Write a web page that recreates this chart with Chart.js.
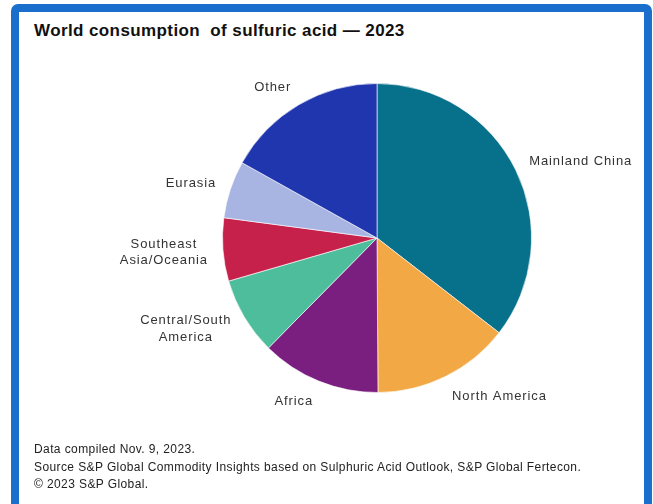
<!DOCTYPE html>
<html>
<head>
<meta charset="utf-8">
<script src="https://cdn.jsdelivr.net/npm/chart.js@4/dist/chart.umd.min.js"></script>
<style>
  html, body { margin: 0; padding: 0; background: #fff; }
  body { width: 653px; height: 504px; position: relative; overflow: hidden; font-family: "Liberation Sans", Arial, sans-serif; }
  #frame {
    position: absolute; left: 11px; top: 4px; width: 625px; height: 500px;
    border: 8px solid #1a6fcc; border-bottom-width: 4px; border-radius: 7px 7px 0 0;
    box-sizing: content-box;
  }
  #title {
    position: absolute; left: 34px; top: 21px;
    font-weight: bold; font-size: 17px; letter-spacing: 0.4px; color: #111; white-space: pre;
  }
  #notes {
    position: absolute; left: 34px; top: 441px;
    font-size: 12px; line-height: 17.5px; color: #222; letter-spacing: 0.4px;
  }
  #wrap { position: absolute; left: 0; top: 0; width: 653px; height: 504px; }
</style>
</head>
<body>
<div id="frame"></div>
<div id="title">World consumption  of sulfuric acid — 2023</div>
<div id="wrap"><canvas id="mycanvas"></canvas></div>
<div id="notes">
  Data compiled Nov. 9, 2023.<br>
  Source S&amp;P Global Commodity Insights based on Sulphuric Acid Outlook, S&amp;P Global Fertecon.<br>
  © 2023 S&amp;P Global.
</div>
<script>
var regions = ['Mainland China', 'North America', 'Africa', 'Central/South\nAmerica', 'Southeast\nAsia/Oceania', 'Eurasia', 'Other'];
var share = [35.5, 14.4, 12.5, 8.1, 6.6, 6.0, 16.9];
var colors = ['#07708a', '#f1a845', '#7a1f7f', '#4dbd9b', '#c6214b', '#a8b5e3', '#1f36ae'];

// labels sit just outside each slice, aligned away from the pie
var outsideLabels = {
  id: 'outsideLabels',
  afterDatasetsDraw: function(chart) {
    var ctx = chart.ctx;
    var arcs = chart.getDatasetMeta(0).data;
    ctx.save();
    ctx.font = '13px "Liberation Sans", Arial, sans-serif';
    ctx.letterSpacing = '0.9px';
    ctx.fillStyle = '#333';
    ctx.textBaseline = 'middle';
    ctx.textAlign = 'center';
    arcs.forEach(function(arc, i) {
      var mid = (arc.startAngle + arc.endAngle) / 2;
      var r = arc.outerRadius + 15;
      var ax = arc.x + Math.cos(mid) * r;
      var ay = arc.y + Math.sin(mid) * r + 1 + 6 * Math.sin(mid);
      var lines = regions[i].split('\n');
      var w = Math.max.apply(null, lines.map(function(l) { return ctx.measureText(l).width; }));
      var lh = 16.5;
      var cx = Math.cos(mid) >= 0 ? ax + w / 2 : ax - w / 2;
      var top = ay - (lines.length - 1) * lh / 2;
      lines.forEach(function(l, k) {
        ctx.fillText(l, cx, top + k * lh);
      });
    });
    ctx.restore();
  }
};

var ctx = document.getElementById('mycanvas');
var pieChart = new Chart(ctx, {
  type: 'pie',
  data: {
    labels: regions,
    datasets: [{
      data: share,
      backgroundColor: colors,
      borderColor: 'rgba(255,255,255,0.6)',
      borderWidth: 1
    }]
  },
  options: {
    responsive: true,
    maintainAspectRatio: false,
    animation: false,
    layout: { padding: { left: 222, right: 121, top: 83, bottom: 111 } },
    plugins: {
      legend: { display: false },
      tooltip: { enabled: false }
    }
  },
  plugins: [outsideLabels]
});
</script>
</body>
</html>
